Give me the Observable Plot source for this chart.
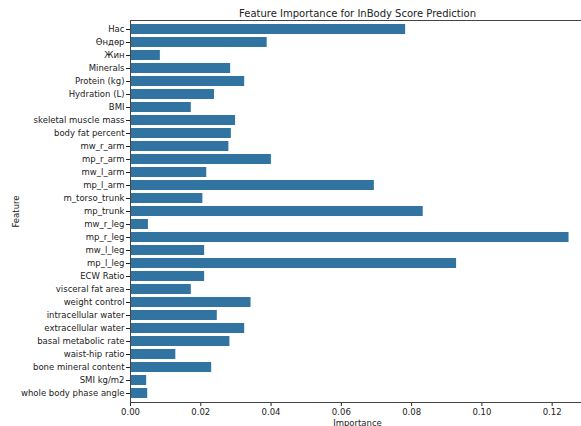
<!DOCTYPE html>
<html><head><meta charset="utf-8">
<script src="https://cdn.jsdelivr.net/npm/d3@7"></script>
<script src="https://cdn.jsdelivr.net/npm/@observablehq/plot@0.6"></script>
<style>html,body{margin:0;padding:0;background:#fff;overflow:hidden;}</style>
</head><body><div id="chart"></div>
<script>
const features = ["Нас","Өндөр","Жин","Minerals","Protein (kg)","Hydration (L)","BMI","skeletal muscle mass","body fat percent","mw_r_arm","mp_r_arm","mw_l_arm","mp_l_arm","m_torso_trunk","mp_trunk","mw_r_leg","mp_r_leg","mw_l_leg","mp_l_leg","ECW Ratio","visceral fat area","weight control","intracellular water","extracellular water","basal metabolic rate","waist-hip ratio","bone mineral content","SMI kg/m2","whole body phase angle"];
const importance = [0.0783,0.0389,0.0085,0.0285,0.0325,0.0239,0.0173,0.0299,0.0287,0.0280,0.0401,0.0217,0.0694,0.0206,0.0833,0.0051,0.1248,0.0211,0.0928,0.0211,0.0173,0.0343,0.0247,0.0325,0.0283,0.0129,0.0231,0.0046,0.0049];
const xTicks = [0, 0.02, 0.04, 0.06, 0.08, 0.10, 0.12];
const title = "Feature Importance for InBody Score Prediction";
const xLabel = "Importance";
const yLabel = "Feature";

const data = features.map((f, i) => ({feature: f, importance: importance[i]}));

const chart = Plot.plot({
  width: 584, height: 426,
  marginTop: 20, marginBottom: 24, marginLeft: 130, marginRight: 0,
  style: {fontFamily: "DejaVu Sans", fontSize: "8.5px", background: "#fff", color: "#222", maxWidth: "none"},
  x: {domain: [0, 0.1292]},
  y: {domain: features, paddingInner: 0.2, paddingOuter: 0.1},
  marks: [
    Plot.barX(data, {x: "importance", y: "feature", fill: "#3274a1"}),
    Plot.axisX({ticks: xTicks, tickFormat: ".2f", tickSize: 4, tickPadding: 2, label: xLabel, labelArrow: "none", labelAnchor: "center", labelOffset: 23}),
    Plot.axisY({tickSize: 4, tickPadding: 2, label: yLabel, labelArrow: "none", labelAnchor: "center", labelOffset: 118}),
    Plot.frame({stroke: "#444"}),
    Plot.text([title], {text: d => d, frameAnchor: "top", lineAnchor: "bottom", dy: -4, fontSize: 10})
  ]
});
document.getElementById("chart").appendChild(chart);
</script>
</body></html>
